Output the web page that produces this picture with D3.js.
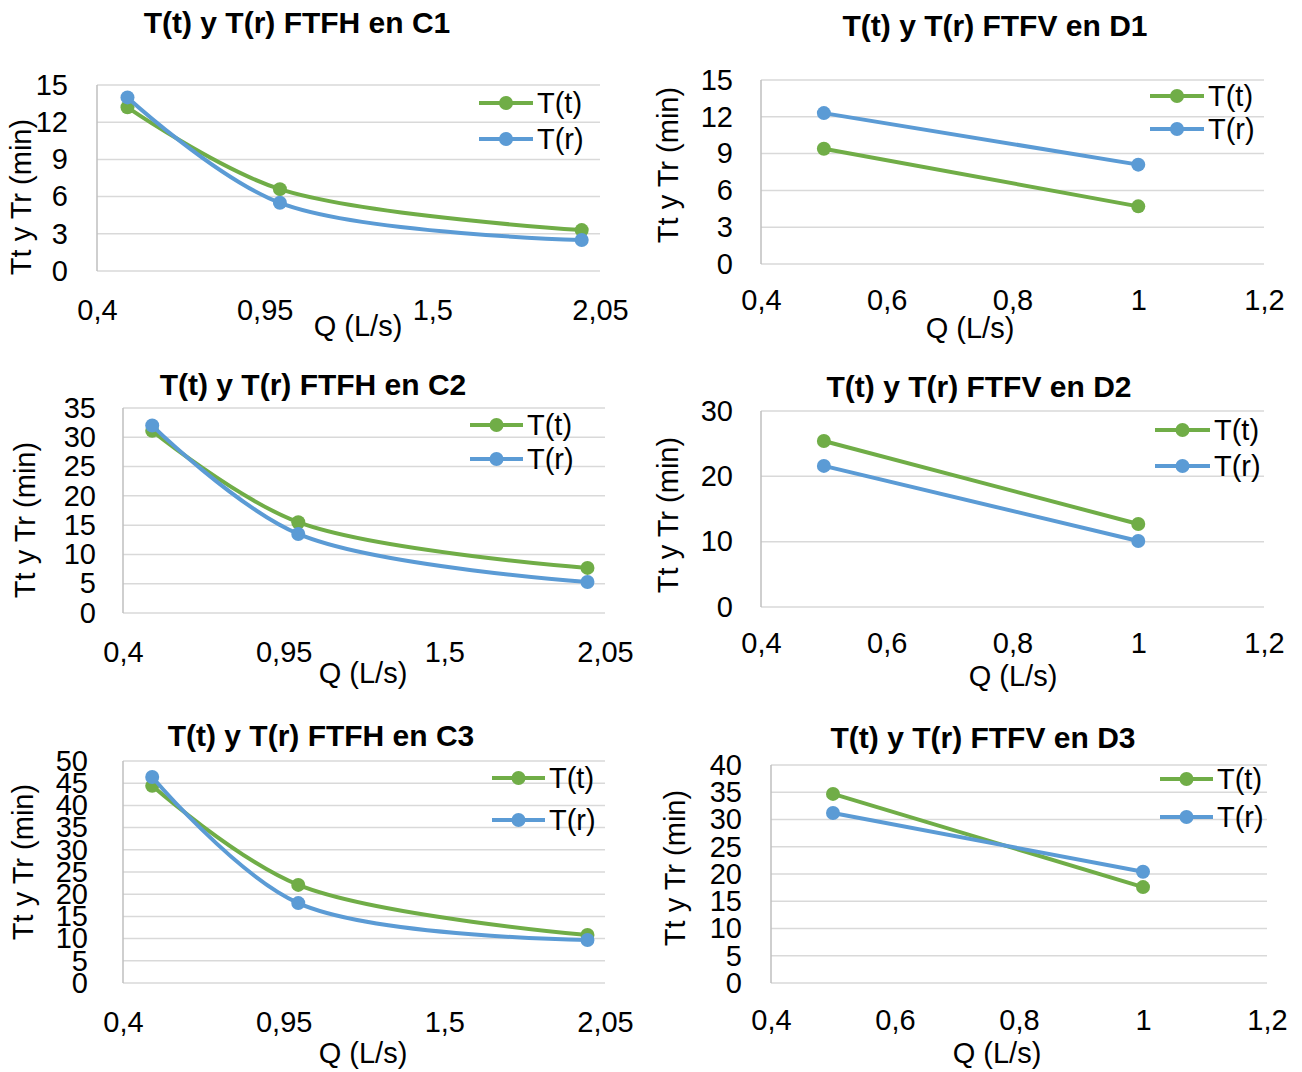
<!DOCTYPE html>
<html>
<head>
<meta charset="utf-8">
<script src="https://cdn.jsdelivr.net/npm/d3@7"></script>
<style>
  body { margin: 0; background: #fff; }
  text { font-family: "Liberation Sans", Arial, sans-serif; fill: #000; }
</style>
</head>
<body>
<script>
// caudal Q (L/s) por grupo
const qC = [0.5, 1.0, 1.99];
const qD = [0.5, 1.0];

// T(t) y T(r) en minutos
const c1Tt = [13.2, 6.6, 3.3];
const c1Tr = [14.0, 5.5, 2.5];
const c2Tt = [31.1, 15.5, 7.7];
const c2Tr = [32.0, 13.5, 5.3];
const c3Tt = [44.4, 22.1, 10.8];
const c3Tr = [46.4, 18.0, 9.7];
const d1Tt = [9.4, 4.7];
const d1Tr = [12.3, 8.1];
const d2Tt = [25.4, 12.7];
const d2Tr = [21.6, 10.1];
const d3Tt = [34.7, 17.6];
const d3Tr = [31.2, 20.4];

const xTicksC = [0.4, 0.95, 1.5, 2.05];
const xTicksD = [0.4, 0.6, 0.8, 1, 1.2];
const seriesNames = ["T(t)", "T(r)"];

const green = "#70ad47", blue = "#5b9bd5";
const fs = 29;

const charts = [
  { title: "T(t) y T(r) FTFH en C1", q: qC, tt: c1Tt, tr: c1Tr, yMax: 15, yStep: 3, xTicks: xTicksC, xMax: 2.05, smooth: true,
    box: { left: 97, right: 600, top: 85, bottom: 271 }, gap: 29, xLabY: 310, qLab: [358, 326], tPos: [297, 22], yTit: [21, 197],
    leg: { x1: 479, x2: 533, tx: 537, y1: 103, y2: 139 } },
  { title: "T(t) y T(r) FTFV en D1", q: qD, tt: d1Tt, tr: d1Tr, yMax: 15, yStep: 3, xTicks: xTicksD, xMax: 1.2, smooth: false,
    box: { left: 761, right: 1264, top: 80, bottom: 264 }, gap: 28, xLabY: 300, qLab: [970, 328], tPos: [995, 25], yTit: [668, 165],
    leg: { x1: 1150, x2: 1204, tx: 1208, y1: 96, y2: 129 } },
  { title: "T(t) y T(r) FTFH en C2", q: qC, tt: c2Tt, tr: c2Tr, yMax: 35, yStep: 5, xTicks: xTicksC, xMax: 2.05, smooth: true,
    box: { left: 123, right: 605, top: 408, bottom: 613 }, gap: 27, xLabY: 652, qLab: [363, 673], tPos: [313, 384], yTit: [25, 520],
    leg: { x1: 470, x2: 523, tx: 527, y1: 425, y2: 459 } },
  { title: "T(t) y T(r) FTFV en D2", q: qD, tt: d2Tt, tr: d2Tr, yMax: 30, yStep: 10, xTicks: xTicksD, xMax: 1.2, smooth: false,
    box: { left: 761, right: 1264, top: 411, bottom: 607 }, gap: 28, xLabY: 643, qLab: [1013, 676], tPos: [979, 386], yTit: [668, 515],
    leg: { x1: 1155, x2: 1210, tx: 1214, y1: 430, y2: 466 } },
  { title: "T(t) y T(r) FTFH en C3", q: qC, tt: c3Tt, tr: c3Tr, yMax: 50, yStep: 5, xTicks: xTicksC, xMax: 2.05, smooth: true,
    box: { left: 123, right: 605, top: 761, bottom: 983 }, gap: 35, xLabY: 1022, qLab: [363, 1053], tPos: [321, 735], yTit: [23, 862],
    leg: { x1: 492, x2: 545, tx: 549, y1: 778, y2: 820 } },
  { title: "T(t) y T(r) FTFV en D3", q: qD, tt: d3Tt, tr: d3Tr, yMax: 40, yStep: 5, xTicks: xTicksD, xMax: 1.2, smooth: false,
    box: { left: 771, right: 1267, top: 765, bottom: 983 }, gap: 29, xLabY: 1020, qLab: [997, 1053], tPos: [983, 737], yTit: [675, 868],
    leg: { x1: 1160, x2: 1213, tx: 1217, y1: 779, y2: 817 } }
];

const svg = d3.select("body").append("svg")
  .attr("width", 1302).attr("height", 1072);

const fmt = v => String(+v.toFixed(2)).replace(".", ",");

charts.forEach(c => {
  const b = c.box;
  const x = d3.scaleLinear().domain([0.4, c.xMax]).range([b.left, b.right]);
  const y = d3.scaleLinear().domain([0, c.yMax]).range([b.bottom, b.top]);
  const yTicks = d3.range(0, c.yMax + 0.001, c.yStep);
  const g = svg.append("g");

  // rejilla
  g.append("g").selectAll("line").data(yTicks).join("line")
    .attr("x1", b.left).attr("x2", b.right)
    .attr("y1", d => y(d)).attr("y2", d => y(d))
    .attr("stroke", "#d9d9d9").attr("stroke-width", 1.5);
  g.append("line")
    .attr("x1", b.left).attr("x2", b.left).attr("y1", b.top).attr("y2", b.bottom)
    .attr("stroke", "#bfbfbf").attr("stroke-width", 1.5);

  // ejes
  const ya = g.append("g").attr("transform", `translate(${b.left},0)`)
    .call(d3.axisLeft(y).tickValues(yTicks).tickSize(0).tickPadding(c.gap).tickFormat(fmt));
  const xa = g.append("g").attr("transform", `translate(0,${b.bottom})`)
    .call(d3.axisBottom(x).tickValues(c.xTicks).tickSize(0)
      .tickPadding(c.xLabY - b.bottom - 0.36 * fs).tickFormat(fmt));
  [ya, xa].forEach(a => {
    a.select(".domain").remove();
    a.selectAll("text").style("font-size", fs + "px").attr("fill", "#000")
      .style("font-family", '"Liberation Sans", Arial, sans-serif');
  });

  // titulos
  g.append("text").attr("x", c.tPos[0]).attr("y", c.tPos[1]).attr("dy", "0.36em")
    .attr("text-anchor", "middle").style("font-size", "30px").style("font-weight", "bold")
    .text(c.title);
  g.append("text").attr("x", c.qLab[0]).attr("y", c.qLab[1]).attr("dy", "0.36em")
    .attr("text-anchor", "middle").style("font-size", fs + "px").text("Q (L/s)");
  g.append("text").attr("transform", `translate(${c.yTit[0]},${c.yTit[1]}) rotate(-90)`)
    .attr("dy", "0.36em").attr("text-anchor", "middle").style("font-size", fs + "px")
    .text("Tt y Tr (min)");

  // series
  const line = d3.line().x(d => x(d[0])).y(d => y(d[1]))
    .curve(c.smooth ? d3.curveCatmullRom.alpha(0.5) : d3.curveLinear);
  [[c.tt, green], [c.tr, blue]].forEach(([vals, col]) => {
    const pts = c.q.map((q, i) => [q, vals[i]]);
    g.append("path").datum(pts).attr("d", line)
      .attr("fill", "none").attr("stroke", col).attr("stroke-width", 4);
    g.append("g").selectAll("circle").data(pts).join("circle")
      .attr("cx", d => x(d[0])).attr("cy", d => y(d[1])).attr("r", 7).attr("fill", col);
  });

  // leyenda
  const L = c.leg;
  [[seriesNames[0], green, L.y1], [seriesNames[1], blue, L.y2]].forEach(([name, col, ly]) => {
    g.append("line").attr("x1", L.x1).attr("x2", L.x2).attr("y1", ly).attr("y2", ly)
      .attr("stroke", col).attr("stroke-width", 4);
    g.append("circle").attr("cx", (L.x1 + L.x2) / 2).attr("cy", ly).attr("r", 7).attr("fill", col);
    g.append("text").attr("x", L.tx).attr("y", ly).attr("dy", "0.36em")
      .style("font-size", fs + "px").text(name);
  });
});
</script>
</body>
</html>
